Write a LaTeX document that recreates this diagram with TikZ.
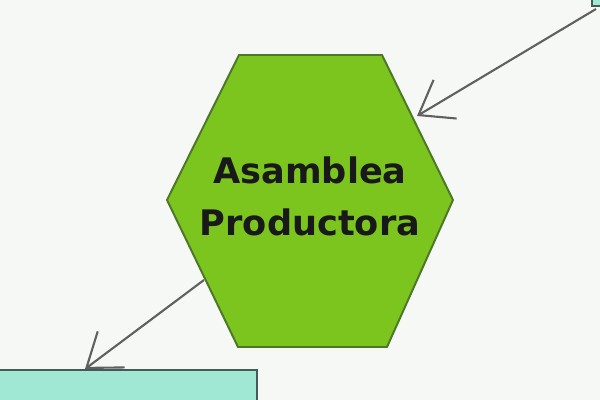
\documentclass[tikz,border=0pt]{standalone}
\usepackage{fontspec}
\setmainfont{DejaVu Sans}
\usetikzlibrary{arrows.meta, positioning, calc}
\usepackage{xcolor}
\definecolor{bgcol}{RGB}{246,248,246}
\definecolor{hexfill}{RGB}{124,197,30}
\definecolor{hexdraw}{RGB}{78,120,40}
\definecolor{boxfill}{RGB}{160,232,212}
\definecolor{boxdraw}{RGB}{70,90,88}
\definecolor{arrcol}{RGB}{96,96,96}
\tikzset{
  hexa/.style  = {draw=hexdraw, fill=hexfill, line width=1.4pt, line join=miter},
  label/.style = {align=center, font=\fontsize{25}{37}\selectfont\bfseries, text=black!90},
  box/.style   = {draw=boxdraw, fill=boxfill, line width=1.6pt},
  flow/.style  = {-{Straight Barb[length=22pt, width=32pt]}, line width=1.5pt, draw=arrcol}
}

\begin{document}
\begin{tikzpicture}[x=0.025cm, y=-0.025cm]
\fill[bgcol] (0,0) rectangle (600,400);
\useasboundingbox (0,0) rectangle (600,400);
\clip (0,0) rectangle (600,400);

% boxes at the corners, mostly outside the page
\draw[box] (592,-60) rectangle (720,6);
\coordinate (topbox) at (596,9);
\draw[box] (-20,370) rectangle (257,460);
\coordinate (lowbox) at (85,369);

% hexagon with its label
\draw[hexa] (239,55) -- (382,55) -- (453,200) -- (387,347) -- (238,347) -- (167,200) -- cycle;
\node[label] (asamblea) at (310,196) {Asamblea\\Productora};
\coordinate (hexne) at (417,116);
\coordinate (hexsw) at (204,280);

% connectors
\draw[flow] (topbox) -- (hexne);
\draw[flow] (hexsw) -- (lowbox);
\end{tikzpicture}
\end{document}
